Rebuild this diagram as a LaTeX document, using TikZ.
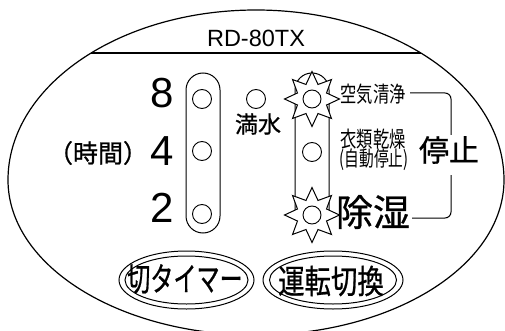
\documentclass[tikz,border=0pt]{standalone}
\usepackage{fontspec}
\setmainfont{Liberation Sans}
\newfontfamily\jp[FakeBold=0.8]{Noto Sans CJK JP}
\newfontfamily\jpl{Noto Sans CJK JP}
\usetikzlibrary{shapes.geometric}
\tikzset{
  ln/.style={line width=1pt},
  lamp/.style={circle, draw, line width=0.9pt, minimum size=19pt, inner sep=0pt},
  burst/.style={star, star points=8, star point ratio=1.75, minimum size=55pt, inner sep=0pt, draw, fill=white, line width=1pt},
  txt/.style={inner sep=0pt, outer sep=0pt},
  bracket/.style={line width=1pt, rounded corners=6pt},
}
\newcommand{\fs}[1]{\fontsize{#1}{#1}\selectfont}
\begin{document}
\begin{tikzpicture}[x=1pt,y=1pt]
\useasboundingbox (0,0) rectangle (505,-331);
\clip (0,0) rectangle (505,-331);
% outer panel
\draw[line width=1.2pt] (8,-180) arc[start angle=180,end angle=0,x radius=248,y radius=170]
  arc[start angle=0,end angle=-180,x radius=248,y radius=155] -- cycle;
\begin{scope}
\clip (8,-180) arc[start angle=180,end angle=0,x radius=248,y radius=170]
  arc[start angle=0,end angle=-180,x radius=248,y radius=155] -- cycle;
\coordinate (hl) at (0,-53);
\coordinate (hr) at (505,-53);
\draw[line width=1.1pt] (hl) -- (hr);
\end{scope}
\node[txt] (model) at (256,-38) {\fs{23.5}RD-80TX};
% timer column
\node[txt] (d8) at (162,-93) {\fs{42}8};
\node[txt] (d4) at (162,-151) {\fs{42}4};
\node[txt] (d2) at (162,-208) {\fs{42}2};
\node[txt] (jikan) at (98,-153) {\jp\fs{25}（時間）};
\node[draw, ln, rounded corners=17pt, minimum width=34pt, minimum height=160pt, inner sep=0pt] (pillL) at (203,-153) {};
\node[lamp] (l8) at (202,-99) {};
\node[lamp] (l4) at (202,-151) {};
\node[lamp] (l2) at (202,-214) {};
% full water
\node[lamp] (lw) at (256,-99) {};
\node[txt] (mansui) at (258,-124) {\jp\fs{23}満水};
% mode column
\coordinate (pa) at (295,-215);
\coordinate (pb) at (295,-90);
\coordinate (pc) at (329,-215);
\draw[ln] (pa) -- (pb) arc[start angle=180,end angle=0,radius=17] -- (pc);
\node[burst] (s1) at (312,-99) {};
\node[lamp, minimum size=18pt] (l1) at (s1) {};
\node[lamp] (lm) at (312,-152) {};
\node[burst] (s3) at (312,-215) {};
\node[lamp, minimum size=18pt] (l3) at (s3) {};
\node[txt, xscale=0.74] (kuuki) at (373,-94) {\jpl\fs{22}空気清浄};
\node[txt, xscale=0.74] (irui) at (373,-139) {\jpl\fs{22}衣類乾燥};
\node[txt, xscale=0.7] (jido) at (374,-160) {\jpl\fs{21}(自動停止)};
\node[txt] (joshitsu) at (373,-212) {\jp\fs{37}除湿};
\node[txt] (teishi) at (449,-150) {\jp\fs{30}停止};
% bracket
\coordinate (k1) at (410,-93);
\coordinate (k2) at (451,-93);
\coordinate (k3) at (451,-135);
\coordinate (j1) at (451,-175);
\coordinate (j2) at (451,-218);
\coordinate (j3) at (412,-218);
\draw[bracket] (k1) -- (k2) -- (k3);
\draw[bracket] (j1) -- (j2) -- (j3);
% buttons
\node[ellipse, draw, ln, minimum width=135pt, minimum height=58pt, inner sep=0pt] (b1o) at (186.5,-280) {};
\node[ellipse, draw, ln, minimum width=123pt, minimum height=48pt, inner sep=0pt] (b1i) at (186.5,-280) {};
\node[txt, xscale=0.7] (timer) at (185,-279) {\jp\fs{33}切タイマー};
\node[ellipse, draw, ln, minimum width=140pt, minimum height=58pt, inner sep=0pt] (b2o) at (333,-280) {};
\node[ellipse, draw, ln, minimum width=127pt, minimum height=48pt, inner sep=0pt] (b2i) at (333,-280) {};
\node[txt, xscale=0.8] (kirikae) at (331,-281) {\jp\fs{33}運転切換};
\end{tikzpicture}
\end{document}
